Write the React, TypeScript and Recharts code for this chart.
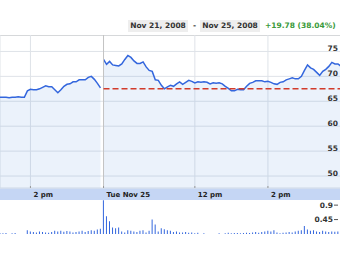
import React from 'react';
import {
  ComposedChart,
  Area,
  XAxis,
  YAxis,
  CartesianGrid,
  ReferenceLine,
  BarChart,
  Bar,
} from 'recharts';

// 5-minute samples, Nov 24 from 1:10 pm to close, then Nov 25 full session
const DAY1_PRICE = [
  65.8, 65.8, 65.8, 65.7, 65.8, 65.8, 65.9, 65.8, 65.8, 67.1, 67.4, 67.3, 67.3, 67.5, 67.8, 68.1, 67.9,
  67.9, 67.3, 66.7, 67.3, 68.0, 68.4, 68.5, 68.9, 68.9, 69.3, 69.3, 69.3, 69.8, 70.0, 69.4, 68.6, 67.7,
];
const DAY2_PRICE = [
  73.4, 72.4, 73.0, 72.3, 72.2, 72.1, 72.5, 73.4, 74.2, 73.8, 73.1, 72.6, 72.6, 72.9, 71.9, 71.2, 71.0,
  69.3, 69.2, 68.2, 67.5, 67.9, 68.2, 68.0, 68.5, 68.9, 68.4, 68.8, 69.2, 69.0, 68.7, 68.9, 68.8, 68.9,
  68.8, 68.5, 68.7, 68.6, 68.7, 68.5, 68.0, 67.6, 67.1, 67.1, 67.4, 67.3, 67.3, 68.0, 68.6, 68.8, 69.1,
  69.1, 69.1, 68.9, 69.0, 68.8, 68.5, 68.4, 68.8, 68.9, 69.3, 69.5, 69.7, 69.5, 69.5, 70.0, 71.2, 72.3,
  71.7, 71.4, 70.8, 70.2, 71.0, 71.4, 72.0, 72.8, 72.5, 72.5, 72.0,
];
const DAY1_VOL = [
  0.03, 0.02, 0.03, 0, 0.02, 0.03, 0, 0, 0, 0.12, 0.08, 0.06, 0.05, 0.08, 0.06, 0.05, 0.04, 0.06, 0.1,
  0.08, 0.1, 0.07, 0.09, 0.08, 0.05, 0.06, 0.08, 0.1, 0.06, 0.09, 0.12, 0.1, 0.14, 0.16,
];
const DAY2_VOL = [
  1.05, 0.55, 0.4, 0.2, 0.18, 0.2, 0.08, 0.05, 0.12, 0.1, 0.08, 0.06, 0.1, 0.12, 0.05, 0.1, 0.45, 0.3,
  0.08, 0.18, 0.15, 0.12, 0.1, 0.06, 0.08, 0.05, 0.05, 0.06, 0.04, 0.05, 0.02, 0.04, 0, 0.02, 0, 0, 0, 0,
  0.02, 0, 0.02, 0.04, 0.02, 0.03, 0.03, 0.02, 0.03, 0.04, 0.03, 0.05, 0.06, 0.04, 0.06, 0.08, 0.1, 0.08,
  0.12, 0.05, 0.02, 0.04, 0.05, 0.06, 0.05, 0.08, 0.1, 0.12, 0.25, 0.14, 0.1, 0.12, 0.08, 0.06, 0.1, 0.08,
  0.06, 0.08, 0.07, 0.08, 0.06,
];

const PREV_CLOSE = 67.5;
const DAY2_OPEN = 170; // minutes into the window
const TIME_TICKS = [50, 170, 320, 440];
const TIME_LABELS: Record<number, string> = { 50: '2 pm', 170: 'Tue Nov 25', 320: '12 pm', 440: '2 pm' };
const PRICE_TICKS = [50, 55, 60, 65, 70, 75];
const VOL_TICKS = [0.45, 0.9];

const rows = [
  ...DAY1_PRICE.map((p, i) => ({ t: i * 5, price: p as number | null, vol: DAY1_VOL[i] as number | null })),
  { t: 168, price: null, vol: null },
  ...DAY2_PRICE.map((p, j) => ({ t: DAY2_OPEN + j * 5, price: p as number | null, vol: DAY2_VOL[j] as number | null })),
];

const FONT = '"DejaVu Sans", Verdana, sans-serif';

function TimeTick({ x, y, payload }: any) {
  return (
    <g>
      <line x1={x} x2={x} y1={y - 2} y2={y} stroke="#999" />
      <text x={x + 3} y={y + 9} fontSize={7} fontWeight="bold" fill="#222" fontFamily={FONT}>
        {TIME_LABELS[payload.value]}
      </text>
    </g>
  );
}

function PriceTick({ x, y, payload }: any) {
  return (
    <text x={x} y={y} dy={-0.5} textAnchor="end" fontSize={7.5} fontWeight="bold" fill="#333" fontFamily={FONT}>
      {payload.value}
    </text>
  );
}

function VolTick({ x, y, payload }: any) {
  return (
    <g>
      <text x={x - 5} y={y} dy={2.5} textAnchor="end" fontSize={7.5} fontWeight="bold" fill="#333" fontFamily={FONT}>
        {payload.value}
      </text>
      <line x1={x - 4} x2={x} y1={y} y2={y} stroke="#555" />
    </g>
  );
}

const boxStyle: React.CSSProperties = {
  position: 'absolute',
  top: 20,
  height: 12,
  width: 60,
  lineHeight: '12px',
  background: '#eeeeee',
  textAlign: 'center',
  color: '#333',
};

export default function App() {
  return (
    <div
      style={{
        position: 'absolute',
        left: 0,
        top: 0,
        width: 340,
        height: 255,
        background: '#fff',
        fontFamily: FONT,
        fontSize: 7.5,
        fontWeight: 'bold',
        overflow: 'hidden',
      }}
    >
      <div style={{ ...boxStyle, left: 128 }}>Nov 21, 2008</div>
      <div style={{ position: 'absolute', left: 193, top: 20, lineHeight: '12px', color: '#333' }}>-</div>
      <div style={{ ...boxStyle, left: 200 }}>Nov 25, 2008</div>
      <div style={{ position: 'absolute', left: 265, top: 20, lineHeight: '12px', color: '#3a9a3a' }}>
        +19.78 (38.04%)
      </div>

      <div style={{ position: 'absolute', left: 0, top: 35, width: 340, height: 1, background: '#cccccc' }} />
      <div style={{ position: 'absolute', left: 0, top: 188, width: 340, height: 12, background: '#c5d6f4' }} />

      <div style={{ position: 'absolute', left: 0, top: 35 }}>
        <ComposedChart width={341} height={165} data={rows} margin={{ top: 0, right: 0, bottom: 0, left: 0 }}>
          <CartesianGrid stroke="#dfe3e8" />
          <XAxis
            dataKey="t"
            type="number"
            domain={[0, 560]}
            ticks={TIME_TICKS}
            interval={0}
            height={12}
            axisLine={false}
            tickLine={false}
            tickSize={0}
            tickMargin={0}
            tick={<TimeTick />}
          />
          <YAxis
            orientation="right"
            mirror
            width={1}
            domain={[47.6, 78.3]}
            ticks={PRICE_TICKS}
            interval={0}
            allowDataOverflow
            axisLine={false}
            tickLine={false}
            tickSize={0}
            tickMargin={3}
            tick={<PriceTick />}
          />
          <Area
            dataKey="price"
            type="linear"
            stroke="#3366dd"
            strokeWidth={1.5}
            fill="#3b7dd8"
            fillOpacity={0.1}
            isAnimationActive={false}
            dot={false}
            activeDot={false}
          />
          <ReferenceLine x={DAY2_OPEN} stroke="#c4c4c4" />
          <ReferenceLine
            segment={[
              { x: DAY2_OPEN, y: PREV_CLOSE },
              { x: 560, y: PREV_CLOSE },
            ]}
            stroke="#d23b2b"
            strokeWidth={1.5}
            strokeDasharray="6 3"
          />
        </ComposedChart>
      </div>

      <div style={{ position: 'absolute', left: 0, top: 200 }}>
        <BarChart width={341} height={34} data={rows} margin={{ top: 0, right: 0, bottom: 0, left: 0 }}>
          <XAxis dataKey="t" type="number" domain={[0, 560]} hide />
          <YAxis
            orientation="right"
            mirror
            width={1}
            domain={[0, 1.06]}
            ticks={VOL_TICKS}
            interval={0}
            allowDataOverflow
            axisLine={false}
            tickLine={false}
            tickSize={0}
            tickMargin={3}
            tick={<VolTick />}
          />
          <Bar dataKey="vol" fill="#3366dd" barSize={1} isAnimationActive={false} />
        </BarChart>
      </div>
    </div>
  );
}
